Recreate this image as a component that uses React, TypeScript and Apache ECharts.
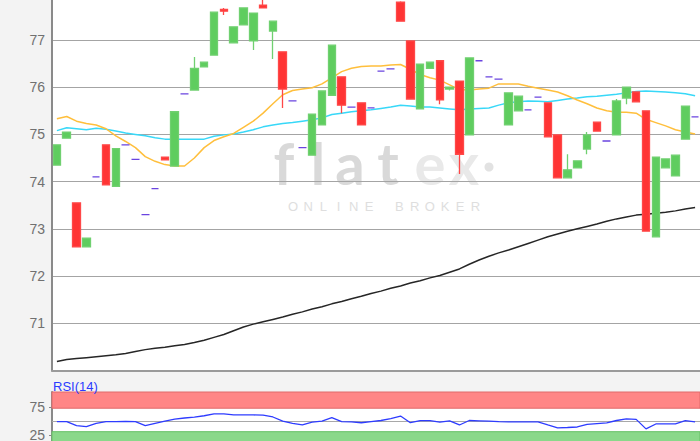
import React, { useEffect, useRef } from 'react';
import * as echarts from 'echarts';

// [open, close, low, high]
const candles: number[][] = [
  [74.35, 74.78, 74.35, 74.78],
  [74.92, 75.05, 74.92, 75.05],
  [73.55, 72.62, 72.62, 73.55],
  [72.62, 72.8, 72.62, 72.8],
  [74.1, 74.1, 74.1, 74.1],
  [74.78, 73.93, 73.93, 74.78],
  [73.9, 74.7, 73.9, 74.7],
  [74.78, 74.78, 74.78, 74.78],
  [74.47, 74.47, 74.47, 74.47],
  [73.3, 73.3, 73.3, 73.3],
  [73.85, 73.85, 73.85, 73.85],
  [74.52, 74.46, 74.46, 74.52],
  [74.33, 75.48, 74.33, 75.48],
  [75.86, 75.86, 75.86, 75.86],
  [75.94, 76.4, 75.94, 76.64],
  [76.43, 76.53, 76.43, 76.53],
  [76.68, 77.59, 76.68, 77.59],
  [77.65, 77.61, 77.53, 77.68],
  [76.94, 77.28, 76.94, 77.28],
  [77.32, 77.68, 77.32, 77.68],
  [76.98, 77.57, 76.79, 77.57],
  [77.74, 77.68, 77.68, 77.86],
  [77.19, 77.4, 76.6, 77.4],
  [76.75, 75.96, 75.56, 76.75],
  [75.71, 75.71, 75.71, 75.71],
  [74.72, 74.72, 74.72, 74.72],
  [74.56, 75.43, 74.56, 75.43],
  [75.2, 75.92, 75.2, 75.92],
  [75.83, 76.89, 75.83, 76.89],
  [76.22, 75.62, 75.45, 76.22],
  [75.58, 75.58, 75.58, 75.58],
  [75.67, 75.2, 75.2, 75.67],
  [75.56, 75.56, 75.56, 75.56],
  [76.34, 76.34, 76.34, 76.34],
  [76.39, 76.39, 76.39, 76.39],
  [77.8, 77.4, 77.4, 77.82],
  [76.98, 75.75, 75.75, 76.98],
  [75.54, 76.49, 75.54, 76.49],
  [76.4, 76.53, 76.4, 76.53],
  [76.56, 75.73, 75.64, 76.56],
  [75.96, 76.0, 75.93, 76.0],
  [76.13, 74.58, 74.16, 76.13],
  [74.99, 76.62, 74.99, 76.62],
  [76.56, 76.56, 76.56, 76.56],
  [76.22, 76.22, 76.22, 76.22],
  [76.17, 76.17, 76.17, 76.17],
  [75.2, 75.88, 75.2, 75.88],
  [75.5, 75.81, 75.5, 75.81],
  [75.52, 75.52, 75.52, 75.52],
  [75.79, 75.79, 75.79, 75.79],
  [75.67, 74.95, 74.95, 75.67],
  [74.99, 74.08, 74.08, 74.99],
  [74.08, 74.25, 74.08, 74.58],
  [74.29, 74.44, 74.29, 74.44],
  [74.69, 74.99, 74.58, 75.05],
  [75.26, 75.07, 75.07, 75.26],
  [74.86, 74.86, 74.86, 74.86],
  [74.99, 75.71, 74.99, 75.75],
  [75.77, 76.0, 75.64, 76.0],
  [75.9, 75.69, 75.69, 75.9],
  [75.5, 72.95, 72.95, 75.5],
  [72.83, 74.52, 72.83, 74.52],
  [74.29, 74.48, 74.29, 74.48],
  [74.12, 74.56, 74.12, 74.56],
  [74.9, 75.6, 74.9, 75.6],
  [75.37, 75.37, 75.37, 75.37],
];

const maShort: number[] = [
  75.33, 75.38, 75.28, 75.23, 75.2, 75.12, 74.97, 74.85, 74.72, 74.53,
  74.43, 74.36, 74.33, 74.33, 74.5, 74.72, 74.87, 74.95, 75.02, 75.15,
  75.28, 75.45, 75.65, 75.84, 75.93, 75.96, 75.99, 76.07, 76.2, 76.33,
  76.4, 76.44, 76.45, 76.45, 76.47, 76.48, 76.38, 76.27, 76.2, 76.15,
  76.05, 75.95, 75.94, 75.96, 75.98, 76.07, 76.07, 76.07, 76.02, 75.98,
  75.94, 75.9, 75.82, 75.73, 75.65, 75.56, 75.5, 75.47, 75.47, 75.45,
  75.32, 75.25, 75.18, 75.1, 75.05, 75.01,
];

const maMid: number[] = [
  75.08, 75.14, 75.12, 75.1, 75.13, 75.11, 75.07, 75.03, 75.0, 74.97,
  74.93, 74.9, 74.9, 74.9, 74.9, 74.9, 74.96, 74.99, 75.01, 75.05,
  75.1, 75.16, 75.2, 75.23, 75.25, 75.28, 75.31, 75.35, 75.42, 75.45,
  75.48, 75.5, 75.52, 75.55, 75.58, 75.62, 75.6, 75.58, 75.58, 75.56,
  75.54, 75.52, 75.54, 75.55, 75.56, 75.62, 75.67, 75.69, 75.71, 75.7,
  75.69, 75.72, 75.75, 75.77, 75.8, 75.81, 75.83, 75.85, 75.88, 75.91,
  75.92, 75.91, 75.9, 75.88, 75.86, 75.82,
];

const maLong: number[] = [
  70.19, 70.23, 70.25, 70.27, 70.29, 70.31, 70.33, 70.36, 70.4, 70.44,
  70.47, 70.49, 70.52, 70.55, 70.59, 70.64, 70.7, 70.76, 70.84, 70.92,
  70.98, 71.03, 71.08, 71.13, 71.19, 71.24, 71.3, 71.35, 71.41, 71.46,
  71.52, 71.57, 71.63, 71.68, 71.74, 71.79, 71.85, 71.9, 71.96, 72.01,
  72.08, 72.15, 72.25, 72.34, 72.42, 72.49, 72.55, 72.62, 72.69, 72.76,
  72.83, 72.89, 72.95, 73.0, 73.05, 73.1, 73.16, 73.21, 73.25, 73.29,
  73.31, 73.33, 73.35, 73.38, 73.42, 73.45,
];

const rsi: number[] = [
  49, 49, 42, 40, 46, 49, 49, 49.5, 49, 42,
  46, 50, 53.5, 55.5, 57, 59.5, 63, 63, 61, 61,
  61, 60.5, 57.3, 50, 46, 43, 48, 50, 56, 49,
  48.5, 47, 49, 51, 54.5, 59, 47, 50.7, 50.7, 48,
  50.2, 43, 51, 50.5, 50, 49, 48.4, 48.4, 48.4, 48.4,
  43, 37.7, 38.5, 39.4, 44, 45.5, 46.6, 51, 53.8, 53,
  36, 44.8, 44.8, 44.8, 50.7, 48.4,
];

const priceTicks = [71, 72, 73, 74, 75, 76, 77];
const rsiTicks = [25, 75];
const rsiUpperBand = [73, 102];
const rsiLowerBand = [0, 31];
const rsiMid = 50;

// the chart canvas is taller than the window and shifted up so the plot can run past the edges
const OFF = 10;

export default function App() {
  const ref = useRef<HTMLDivElement>(null);
  useEffect(() => {
    const chart = echarts.init(ref.current!, null, { renderer: 'svg' });
    const categories = candles.map((_, i) => String(i + 1));
    const labelFont = "'Liberation Sans', Arial, sans-serif";
    const broker = 'ONLINE BROKER'.split('');
    const wm = (ch: string, x: number, fill: string) => ({
      type: 'text', x, y: 162 + OFF,
      style: { text: ch, font: 'bold 58px Lato', fill, align: 'center', verticalAlign: 'middle' },
    });
    chart.setOption({
      animation: false,
      backgroundColor: '#f3f3f3',
      grid: [
        { left: 52, right: 0, top: OFF - 2, height: 372.4, show: true, backgroundColor: '#ffffff', borderWidth: 0 },
        { left: 52, right: 0, top: 392 + OFF, height: 57, show: true, backgroundColor: '#ffffff', borderWidth: 0 },
      ],
      xAxis: [
        {
          type: 'category', gridIndex: 0, data: categories, boundaryGap: true,
          axisLine: { show: true, lineStyle: { color: '#9a9a9a', width: 2 } },
          axisTick: { show: false }, axisLabel: { show: false }, splitLine: { show: false },
        },
        {
          type: 'category', gridIndex: 1, data: categories, boundaryGap: true,
          axisLine: { show: false }, axisTick: { show: false }, axisLabel: { show: false }, splitLine: { show: false },
        },
      ],
      yAxis: [
        {
          type: 'value', gridIndex: 0, min: 70, max: 77.89, interval: 1,
          axisLine: { show: true, lineStyle: { color: '#8a8a8a', width: 2 } },
          axisTick: { show: false },
          axisLabel: {
            color: '#707070', fontSize: 14, fontFamily: labelFont, margin: 7,
            showMinLabel: false, showMaxLabel: false,
            formatter: (v: number) => (priceTicks.includes(v) ? String(v) : ''),
          },
          splitLine: { show: true, lineStyle: { color: '#a4a4a4', width: 1 } },
        },
        {
          type: 'value', gridIndex: 1, min: 0, max: 102, interval: 25,
          axisLine: { show: true, lineStyle: { color: '#8a8a8a', width: 2 } },
          axisTick: { show: true, length: 3, customValues: rsiTicks, lineStyle: { color: '#888' } },
          axisLabel: {
            color: '#707070', fontSize: 14, fontFamily: labelFont, margin: 7,
            customValues: rsiTicks,
            formatter: (v: number) => (rsiTicks.includes(v) ? String(v) : ''),
          },
          splitLine: { show: false },
        },
      ],
      graphic: [
        {
          type: 'group', z: 1, silent: true,
          children: [
            wm('f', 284, '#d9d9d9'),
            wm('l', 318, '#d9d9d9'),
            wm('a', 350, '#d9d9d9'),
            wm('t', 388, '#d9d9d9'),
            wm('e', 430, '#e9e9e9'),
            wm('x', 464, '#e9e9e9'),
            { type: 'circle', shape: { cx: 489, cy: 167 + OFF, r: 4.5 }, style: { fill: '#e2e2e2' } },
            ...broker.map((ch, i) => ({
              type: 'text', x: 293 + i * 15.2, y: 206 + OFF,
              style: { text: ch, font: "normal 13px 'Liberation Sans', Arial", fill: '#dedede', align: 'center', verticalAlign: 'middle' },
            })),
          ],
        },
        {
          type: 'text', left: 53, top: 380 + OFF, z: 10,
          style: { text: 'RSI(14)', font: "normal 13px 'Liberation Sans', Arial", fill: '#2b3bff' },
        },
      ],
      series: [
        {
          type: 'line', name: 'MA long', xAxisIndex: 0, yAxisIndex: 0, data: maLong, showSymbol: false, z: 3,
          lineStyle: { color: '#262626', width: 1.5 },
        },
        {
          type: 'line', name: 'MA mid', xAxisIndex: 0, yAxisIndex: 0, data: maMid, showSymbol: false, z: 3,
          lineStyle: { color: '#38d8f8', width: 1.5 },
        },
        {
          type: 'line', name: 'MA short', xAxisIndex: 0, yAxisIndex: 0, data: maShort, showSymbol: false, z: 3,
          lineStyle: { color: '#ffbf3c', width: 1.5 },
        },
        {
          type: 'candlestick', name: 'Kurs', xAxisIndex: 0, yAxisIndex: 0, data: candles, barWidth: 8, z: 4,
          itemStyle: {
            color: '#5fcd5f', color0: '#ff3434',
            borderColor: '#70d070', borderColor0: '#ff4848', borderColorDoji: '#6a44e0',
            borderWidth: 1.3,
          },
        },
        {
          type: 'line', name: 'RSI(14)', xAxisIndex: 1, yAxisIndex: 1, data: rsi, showSymbol: false, z: 5,
          lineStyle: { color: '#2e3cff', width: 1.3 },
          markArea: {
            silent: true,
            data: [
              [
                { yAxis: rsiUpperBand[0], itemStyle: { color: '#ff8686', borderColor: '#e06a6a', borderWidth: 1 } },
                { yAxis: rsiUpperBand[1] },
              ],
              [
                { yAxis: rsiLowerBand[0], itemStyle: { color: '#8ad88a', borderColor: '#66c066', borderWidth: 1 } },
                { yAxis: rsiLowerBand[1] },
              ],
            ],
          },
          markLine: {
            silent: true, symbol: 'none', label: { show: false },
            lineStyle: { color: '#a8a8a8', type: 'solid', width: 1 },
            data: [{ yAxis: rsiMid }],
          },
        },
      ],
    });
    return () => chart.dispose();
  }, []);
  return (
    <div style={{ position: 'fixed', left: 0, top: 0, width: 700, height: 441, overflow: 'hidden', background: '#f3f3f3' }}>
      <div ref={ref} style={{ position: 'absolute', left: 0, top: -OFF, width: 700, height: 441 + 2 * OFF }} />
    </div>
  );
}
